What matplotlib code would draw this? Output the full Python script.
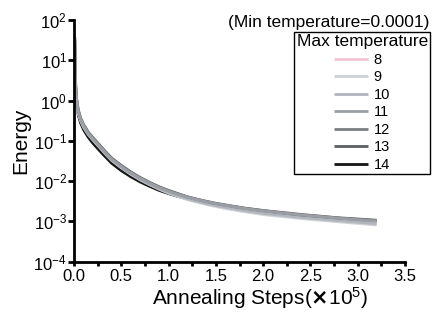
import matplotlib
matplotlib.use("Agg")
import matplotlib.pyplot as plt
import numpy as np

plt.rcParams['font.family'] = ['Liberation Sans', 'DejaVu Sans']
plt.rcParams['mathtext.default'] = 'regular'

steps = [0.008, 0.012, 0.018, 0.028, 0.045, 0.07, 0.1, 0.15, 0.2, 0.25, 0.3, 0.35, 0.4,
         0.5, 0.6, 0.7, 0.8, 0.9, 1.0, 1.1, 1.2, 1.3, 1.4, 1.5, 1.6, 1.8, 2.0,
         2.2, 2.4, 2.6, 2.8, 3.0, 3.2]

# log10(Energy) for each max temperature
log_e_8 = [1.50, 0.85, 0.32, -0.02, -0.29, -0.48, -0.64, -0.82, -0.96, -1.09, -1.22, -1.35, -1.47,
           -1.65, -1.81, -1.94, -2.06, -2.17, -2.26, -2.34, -2.41, -2.47, -2.52, -2.57, -2.61,
           -2.68, -2.74, -2.77, -2.82, -2.87, -2.92, -2.96, -3.00]
log_e_9 = [1.45, 0.80, 0.28, -0.04, -0.31, -0.50, -0.66, -0.84, -0.98, -1.11, -1.24, -1.37, -1.49,
           -1.67, -1.83, -1.97, -2.09, -2.20, -2.30, -2.38, -2.46, -2.52, -2.58, -2.63, -2.68,
           -2.76, -2.83, -2.88, -2.93, -2.97, -3.01, -3.05, -3.09]
log_e_10 = [1.48, 0.83, 0.30, -0.03, -0.30, -0.49, -0.65, -0.83, -0.97, -1.10, -1.23, -1.36, -1.48,
            -1.66, -1.82, -1.96, -2.08, -2.19, -2.28, -2.36, -2.44, -2.50, -2.56, -2.61, -2.65,
            -2.73, -2.80, -2.85, -2.90, -2.94, -2.98, -3.02, -3.06]
log_e_11 = [1.53, 0.88, 0.34, 0.01, -0.26, -0.46, -0.62, -0.81, -0.95, -1.08, -1.21, -1.34, -1.46,
            -1.64, -1.80, -1.93, -2.05, -2.16, -2.25, -2.33, -2.40, -2.46, -2.51, -2.56, -2.60,
            -2.68, -2.74, -2.79, -2.84, -2.88, -2.92, -2.96, -2.99]
log_e_12 = [1.56, 0.92, 0.37, 0.03, -0.24, -0.44, -0.60, -0.79, -0.93, -1.06, -1.19, -1.32, -1.44,
            -1.62, -1.78, -1.92, -2.04, -2.15, -2.24, -2.32, -2.39, -2.45, -2.51, -2.56, -2.60,
            -2.67, -2.73, -2.79, -2.84, -2.88, -2.92, -2.95, -2.98]
log_e_13 = [1.58, 0.94, 0.38, 0.04, -0.23, -0.43, -0.59, -0.78, -0.92, -1.05, -1.18, -1.31, -1.43,
            -1.61, -1.77, -1.91, -2.03, -2.14, -2.23, -2.31, -2.39, -2.45, -2.50, -2.55, -2.59,
            -2.67, -2.73, -2.78, -2.83, -2.87, -2.91, -2.94, -2.97]
log_e_14 = [1.50, 0.80, 0.25, -0.08, -0.36, -0.56, -0.72, -0.91, -1.06, -1.19, -1.32, -1.44, -1.56,
            -1.74, -1.89, -2.02, -2.13, -2.23, -2.31, -2.38, -2.44, -2.50, -2.55, -2.59, -2.63,
            -2.70, -2.76, -2.80, -2.85, -2.89, -2.93, -2.96, -2.99]

labels = ['8', '9', '10', '11', '12', '13', '14']
series = [log_e_8, log_e_9, log_e_10, log_e_11, log_e_12, log_e_13, log_e_14]
colors = ['#f2c4d4', '#cdd1d8', '#b1b6bc', '#999fa4', '#7a7f84', '#5b6064', '#151515']
draw_z = [2.2, 2.3, 2.4, 2.7, 2.6, 2.5, 2.1]

fig = plt.figure(figsize=(4.32, 3.21), dpi=100)
ax = fig.add_axes([74/432, 1-261.7/321, (405-74)/432, (261.7-20)/321])

for lab, s, c, z in zip(labels, series, colors, draw_z):
    ax.plot(steps, 10**np.array(s), color=c, lw=2.0, label=lab, solid_capstyle='butt', zorder=z)

ax.set_yscale('log')
ax.set_ylim(1e-4, 1e2)
ax.set_xlim(0, 3.5)
ax.set_xticks(np.arange(0, 3.51, 0.5))
ax.set_xticks(np.arange(0.25, 3.5, 0.5), minor=True)
ax.set_xticklabels(['0.0', '0.5', '1.0', '1.5', '2.0', '2.5', '3.0', '3.5'])
ax.set_yticks([1e-4, 1e-3, 1e-2, 1e-1, 1e0, 1e1, 1e2])
ax.yaxis.set_minor_locator(matplotlib.ticker.NullLocator())

for sp in ['top', 'right']:
    ax.spines[sp].set_visible(False)
for sp in ['left', 'bottom']:
    ax.spines[sp].set_linewidth(2.0)
    ax.spines[sp].set_zorder(3)
ax.tick_params(axis='both', which='both', direction='out', width=2.0, length=3,
               labelsize=12, color='black')
ax.tick_params(axis='y', length=4, pad=1)
ax.tick_params(axis='x', pad=2)

ax.set_ylabel('Energy', fontsize=15, labelpad=2)
ax.set_xlabel(r'Annealing Steps($\mathbf{\times}$10$^{5}$)', fontsize=15, x=0.562, labelpad=1)

leg = ax.legend(title='Max temperature', loc='upper right',
                bbox_to_anchor=(430/432, 1-32/321), bbox_transform=fig.transFigure,
                fontsize=10.5, title_fontsize=12.5, frameon=True, fancybox=False,
                edgecolor='black', framealpha=1, handlelength=2.3, handletextpad=0.4,
                labelspacing=0.24, borderpad=0.15, borderaxespad=0)
leg.get_frame().set_linewidth(1.0)
leg.set_clip_on(False)

fig.text(429/432, 1-27/321, '(Min temperature=0.0001)', ha='right', va='baseline', fontsize=12.5)

fig.savefig('out.png', dpi=100)
